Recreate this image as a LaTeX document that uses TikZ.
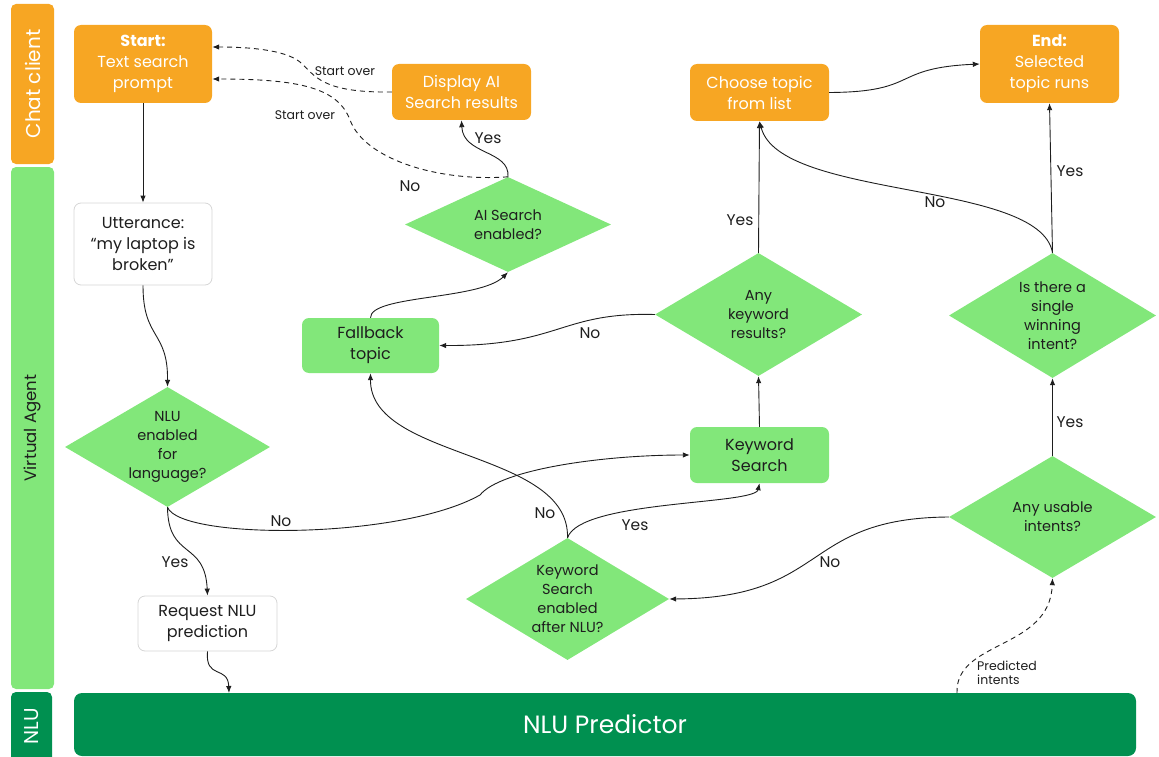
\documentclass[tikz,border=0pt]{standalone}
\usepackage{fontspec}
\setmainfont{Poppins}
\usetikzlibrary{shapes.geometric,arrows.meta}
\definecolor{orng}{HTML}{F7A623}
\definecolor{lgreen}{HTML}{82E77A}
\definecolor{dgreen}{HTML}{009050}
\definecolor{ink}{HTML}{1E1E1E}
\definecolor{edgegray}{HTML}{D6D6D6}
\begin{document}
\begin{tikzpicture}[x=1pt,y=-1pt,
  box/.style={rounded corners=7pt, minimum width=138pt, align=center, font=\fontsize{16}{21}\selectfont, inner sep=0pt},
  obox/.style={box, fill=orng, text=white},
  wbox/.style={box, draw=edgegray, line width=0.8pt, fill=white, text=ink},
  gbox/.style={box, fill=lgreen, text=ink},
  dia/.style={diamond, fill=lgreen, inner sep=0pt, aspect=1},
  dtxt/.style={align=center, text=ink, font=\fontsize{14.5}{19}\selectfont, inner sep=0pt},
  lane/.style={rounded corners=5pt, inner sep=0pt},
  conn/.style={draw=ink, line width=0.9pt, -{Latex[length=7pt,width=5.5pt]}},
  dconn/.style={conn, dash pattern=on 5pt off 4pt},
  lbl/.style={text=ink, font=\fontsize{15.5}{17}\selectfont, inner sep=1pt},
  slbl/.style={text=ink, font=\fontsize{12.5}{14}\selectfont, inner sep=1pt, align=left},
]
\useasboundingbox (0,0) rectangle (1159,757);
% lanes
\node[lane, fill=orng, minimum width=43pt, minimum height=160pt] (lcc) at (32.5,84) {};
\node[rotate=90, text=white, font=\fontsize{20}{22}\selectfont] (lcct) at (lcc) {Chat client};
\node[lane, fill=lgreen, minimum width=43pt, minimum height=522pt] (lva) at (32.5,428) {};
\node[rotate=90, text=ink, font=\fontsize{16.5}{18}\selectfont] (lvat) at (lva) {Virtual Agent};
\node[lane, fill=dgreen, minimum width=41pt, minimum height=80pt] (lnlu) at (31.5,732) {};
\node[rotate=90, text=white, font=\fontsize{20}{22}\selectfont] (lnlut) at (31.5,726) {NLU};
% NLU predictor
\node[fill=dgreen, rounded corners=8pt, minimum width=1062pt, minimum height=63pt, text=white, font=\fontsize{25}{28}\selectfont] (nlup) at (605,724.5) {NLU Predictor};
% boxes
\node[obox, minimum height=78pt] (start) at (143,64) {\textbf{Start:}\\Text search\\prompt};
\node[obox, minimum width=139pt, minimum height=56pt] (disp) at (461.5,92) {Display AI\\Search results};
\node[obox, minimum width=139pt, minimum height=57pt] (choose) at (759.5,92.5) {Choose topic\\from list};
\node[obox, minimum width=139pt, minimum height=78pt] (end) at (1049.5,64) {\textbf{End:}\\Selected\\topic runs};
\node[wbox, minimum height=82pt] (utt) at (143,244) {Utterance:\\“my laptop is\\broken”};
\node[gbox, minimum width=137pt, minimum height=55pt] (fb) at (370.5,345.5) {Fallback\\topic};
\node[gbox, minimum width=139pt, minimum height=56pt] (ks) at (759.5,455) {Keyword\\Search};
\node[wbox, minimum width=139pt, minimum height=55pt] (req) at (207.5,623.5) {Request NLU\\prediction};
% diamonds
\node[dia, minimum width=206pt, minimum height=95pt] (ai) at (508,224.5) {};
\node[dtxt] (ait) at (ai) {AI Search\\enabled?};
\node[dia, minimum width=207pt, minimum height=123pt] (akr) at (758.5,314.5) {};
\node[dtxt] (akrt) at (akr) {Any\\keyword\\results?};
\node[dia, minimum width=207pt, minimum height=125pt] (win) at (1052.5,315.5) {};
\node[dtxt] (wint) at (win) {Is there a\\single\\winning\\intent?};
\node[dia, minimum width=205pt, minimum height=120pt] (nlu) at (167.5,447) {};
\node[dtxt] (nlut) at (nlu) {NLU\\enabled\\for\\language?};
\node[dia, minimum width=207pt, minimum height=122pt] (aui) at (1052.5,517) {};
\node[dtxt] (auit) at (aui) {Any usable\\intents?};
\node[dia, minimum width=203pt, minimum height=122pt] (kse) at (567.5,599) {};
\node[dtxt] (kset) at (kse) {Keyword\\Search\\enabled\\after NLU?};
% helper coordinates
\coordinate (reqin) at (229,693);
\coordinate (pi) at (957,693);
\coordinate (bump) at (480,495);
% connectors
\draw[conn] (start.south) -- (utt.north);
\draw[conn] (utt.south) .. controls (143,340) and (168,330) .. (nlu.north);
\draw[conn] (nlu.south) .. controls (168,560) and (205,540) .. (req.north);
\draw[conn] (nlu.south) .. controls (180,540) and (400,540) .. (bump) .. controls (500,470) and (600,455) .. (ks.west);
\draw[conn] (req.south) .. controls (205,680) and (228,665) .. (reqin);
\draw[dconn] (pi) .. controls (955,640) and (1050,650) .. (aui.south);
\draw[conn] (aui.north) -- (win.south);
\draw[conn] (aui.west) .. controls (800,518) and (830,598) .. (kse.east);
\draw[conn] (kse.north) .. controls (580,500) and (755,505) .. (ks.south);
\draw[conn] (kse.north) .. controls (570,450) and (370,460) .. (fb.south);
\draw[conn] (ks.north) -- (akr.south);
\draw[conn] (akr.north) -- (choose.south);
\draw[conn] (akr.west) .. controls (560,312) and (560,346) .. (fb.east);
\draw[conn] (fb.north) .. controls (370,295) and (480,300) .. (ai.south);
\draw[conn] (ai.north) .. controls (510,150) and (463,155) .. (disp.south);
\draw[dconn] (ai.north) .. controls (440,182) and (365,160) .. (350,120) .. controls (338,88) and (300,79) .. ([yshift=-15pt]start.east);
\draw[dconn] (disp.west) .. controls (320,93) and (315,75) .. (300,62) .. controls (285,50) and (250,47) .. ([yshift=17pt]start.east);
\draw[conn] (win.north) -- (end.south);
\draw[conn] (win.north) .. controls (1040,180) and (780,200) .. (choose.south);
\draw[conn] (choose.east) .. controls (920,92) and (890,68) .. (end.west);
% labels
\node[slbl] (so1) at (345,71) {Start over};
\node[slbl] (so2) at (305,115) {Start over};
\node[lbl] (l1) at (410,186) {No};
\node[lbl] (l2) at (488,138) {Yes};
\node[lbl] (l3) at (740,220) {Yes};
\node[lbl] (l4) at (935,202) {No};
\node[lbl] (l5) at (1070,171) {Yes};
\node[lbl] (l6) at (590,333) {No};
\node[lbl] (l7) at (1070,422) {Yes};
\node[lbl] (l8) at (281,521) {No};
\node[lbl] (l9) at (175,562) {Yes};
\node[lbl] (l10) at (545,513) {No};
\node[lbl] (l11) at (635,525) {Yes};
\node[lbl] (l12) at (830,562) {No};
\node[slbl, anchor=west] (pit) at (976,673) {Predicted\\intents};
\end{tikzpicture}
\end{document}
